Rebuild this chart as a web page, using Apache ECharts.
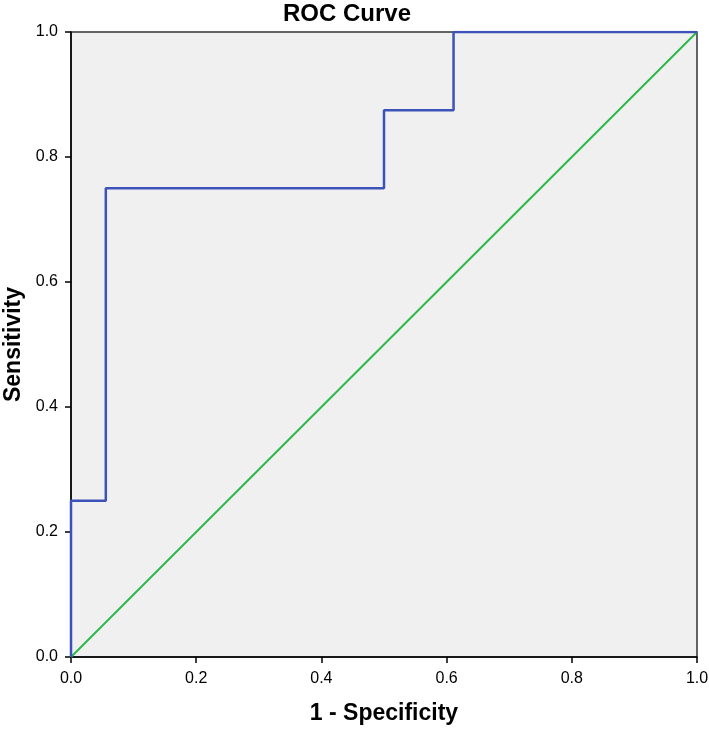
<!DOCTYPE html>
<html>
<head>
<meta charset="utf-8">
<title>ROC Curve</title>
<script src="https://cdn.jsdelivr.net/npm/echarts@6/dist/echarts.min.js"></script>
<style>
  html, body { margin: 0; padding: 0; background: #fff; }
  #roc_chart { width: 709px; height: 729px; }
</style>
</head>
<body>
<div id="roc_chart"></div>
<script>
// ROC step points (1 - specificity, sensitivity)
var rocFpr = [0, 0, 0.0556, 0.0556, 0.5, 0.5, 0.6111, 0.6111, 1];
var rocTpr = [0, 0.25, 0.25, 0.75, 0.75, 0.875, 0.875, 1, 1];
// reference line
var refFpr = [0, 1];
var refTpr = [0, 1];
var tickValues = [0, 0.2, 0.4, 0.6, 0.8, 1.0];

function pairs(xs, ys) {
    return xs.map(function (x, i) { return [x, ys[i]]; });
}

var roc_chart = echarts.init(document.querySelector("#roc_chart"));
var font = 'Liberation Sans, Arial, sans-serif';
var axisCommon = {
    type: 'value',
    min: tickValues[0],
    max: tickValues[tickValues.length - 1],
    interval: 0.2,
    splitLine: { show: false },
    axisLine: { show: true, lineStyle: { color: '#000', width: 1.5 } },
    axisTick: { show: true, inside: false, length: 6, lineStyle: { color: '#000', width: 1.5 } },
    nameLocation: 'middle',
    nameTextStyle: { fontFamily: font, fontSize: 23, fontWeight: 'bold', color: '#000' }
};

var roc_chart_option = {
    animation: false,
    title: {
        text: 'ROC Curve',
        left: 342,
        top: -3,
        textAlign: 'center',
        textStyle: { fontFamily: font, fontSize: 24, fontWeight: 'bold', color: '#000' }
    },
    grid: {
        left: 71,
        right: 12,
        top: 32,
        bottom: 72,
        outerBoundsMode: 'none',
        containLabel: false,
        show: true,
        backgroundColor: '#f0f0f0',
        borderColor: '#333',
        borderWidth: 1.5
    },
    xAxis: Object.assign({}, axisCommon, {
        name: '1 - Specificity',
        nameGap: 45,
        axisLabel: {
            margin: 14,
            fontFamily: font, fontSize: 16, color: '#000',
            formatter: function (v) { return v.toFixed(1); }
        }
    }),
    yAxis: Object.assign({}, axisCommon, {
        name: 'Sensitivity',
        nameGap: 46,
        axisLabel: {
            margin: 13,
            fontFamily: font, fontSize: 16, color: '#000',
            formatter: function (v) { return v.toFixed(1); }
        }
    }),
    series: [
        {
            name: 'Reference',
            type: 'line',
            data: pairs(refFpr, refTpr),
            showSymbol: false,
            lineStyle: { color: '#2db84a', width: 2 },
            z: 2
        },
        {
            name: 'ROC',
            type: 'line',
            data: pairs(rocFpr, rocTpr),
            showSymbol: false,
            lineStyle: { color: '#3d52b8', width: 2.5 },
            z: 3
        }
    ]
};
roc_chart.setOption(roc_chart_option);
</script>
</body>
</html>
